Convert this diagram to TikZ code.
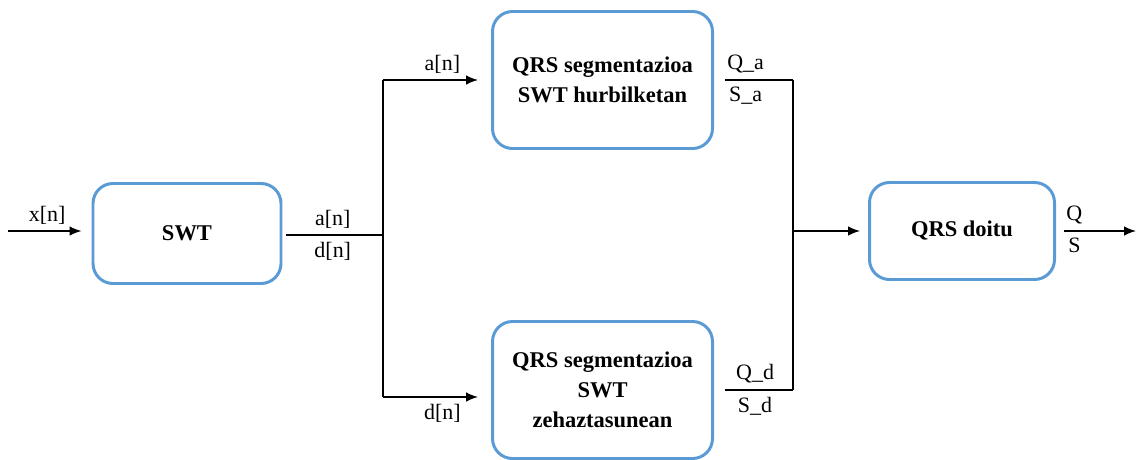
\documentclass[tikz,border=0pt]{standalone}
\usepackage{fontspec}
\setmainfont{Liberation Serif}
\usetikzlibrary{arrows.meta}

\begin{document}
\begin{tikzpicture}[
    blok/.style={draw=blokblue, line width=1.7pt, rounded corners=0.4cm,
                 align=center, font=\fontsize{12.8}{17}\selectfont\bfseries},
    gezi/.style={line width=0.8pt, -{Latex[length=2.4mm,width=1.9mm]}},
    lerro/.style={line width=0.8pt},
    etik/.style={font=\fontsize{12.5}{15}\selectfont, inner sep=3.5pt}
  ]
    \definecolor{blokblue}{RGB}{91,155,213}
    \useasboundingbox (0,0) rectangle (22.72,-9.18);

    \node[blok, minimum width=3.76cm, minimum height=2.0cm] (swt)   at ( 3.74,-4.67) {SWT};
    \node[blok, minimum width=4.40cm, minimum height=2.74cm] (hurb) at (12.05,-1.60) {QRS segmentazioa\\SWT hurbilketan};
    \node[blok, minimum width=4.40cm, minimum height=2.74cm] (zeh)  at (12.05,-7.80) {QRS segmentazioa\\SWT\\zehaztasunean};
    \node[blok, minimum width=3.70cm, minimum height=1.94cm] (doitu) at (19.24,-4.62) {QRS doitu};

    \coordinate (sarrera) at ( 0.16,-4.62);
    \coordinate (j1)      at ( 7.66,-4.70);
    \coordinate (j1b)     at ( 7.66,-7.94);
    \coordinate (j2)      at (15.86,-4.62);
    \coordinate (irteera) at (22.72,-4.62);

    % sarrera eta SWT
    \draw[gezi, shorten >=0.2cm] (sarrera) -- node[etik, above, pos=0.47] {x[n]} (sarrera -| swt.west);
    \draw[lerro, shorten <=0.08cm] (swt.east |- j1) -- node[etik, above] {a[n]} node[etik, below] {d[n]} (j1);

    % adarrak
    \draw[lerro] (j1 |- hurb) -- (j1b);
    \draw[gezi, shorten >=0.26cm] (j1 |- hurb) -- node[etik, above, pos=0.55] {a[n]} (hurb.west);
    \draw[gezi, shorten >=0.26cm] (j1b) -- node[etik, below, pos=0.55] {d[n]} (j1b -| zeh.west);

    % batu
    \draw[lerro, shorten <=0.22cm] (hurb.east) -- node[etik, above, pos=0.4] {Q\_a} node[etik, below, pos=0.4] {S\_a} (j2 |- hurb.east);
    \draw[lerro, shorten <=0.22cm] (zeh.east) -- node[etik, above, pos=0.52] {Q\_d} node[etik, below, pos=0.52] {S\_d} (j2 |- zeh.east);
    \draw[lerro] (j2 |- hurb.east) -- (j2 |- zeh.east);
    \draw[gezi, shorten >=0.16cm] (j2) -- (doitu.west);

    % irteera
    \draw[gezi, shorten <=0.16cm] (doitu.east) -- node[etik, above, pos=0.23] {Q} node[etik, below, pos=0.23] {S} (irteera);
\end{tikzpicture}
\end{document}
